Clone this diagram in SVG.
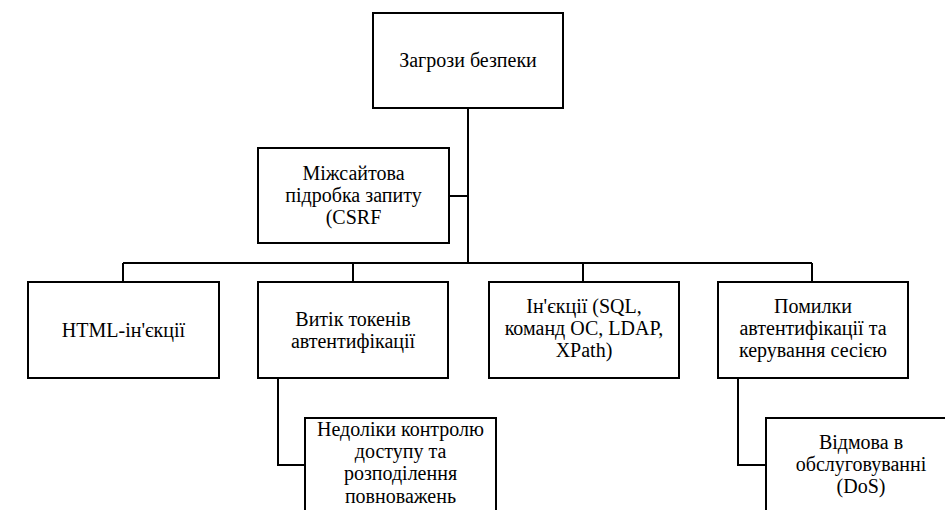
<svg xmlns="http://www.w3.org/2000/svg" width="945" height="510" viewBox="0 0 945 510">
<style>
.box{fill:#fff;stroke:#000;stroke-width:2}
.ln{fill:none;stroke:#000;stroke-width:2}
text{font-family:"Liberation Serif","Times New Roman",serif;font-size:20px;fill:#000;text-anchor:middle}
</style>
<rect width="945" height="510" fill="#fff"/>
<g id="connectors">
<path class="ln" d="M468 108V263"/>
<path class="ln" d="M449 196H468"/>
<path class="ln" d="M123 263H812"/>
<path class="ln" d="M123 263V282M353 263V282M583 263V282M812 263V282"/>
<path class="ln" d="M278 378V465H305"/>
<path class="ln" d="M738 378V465H766"/>
</g>
<g id="n_root"><rect class="box" x="373" y="13" width="190" height="95"/><text x="468" y="67" font-size="21">Загрози безпеки</text></g>
<g id="n_csrf"><rect class="box" x="258" y="148" width="191" height="95"/><text x="353.5" y="180"><tspan x="353.5">Міжсайтова</tspan><tspan x="353.5" dy="22.2">підробка запиту</tspan><tspan x="353.5" dy="22.2">(CSRF</tspan></text></g>
<g id="n_html"><rect class="box" x="28" y="282" width="191" height="96"/><text x="123.5" y="337" font-size="21">HTML-ін'єкції</text></g>
<g id="n_tokens"><rect class="box" x="258" y="282" width="190" height="96"/><text x="353" y="325.5"><tspan x="353">Витік токенів</tspan><tspan x="353" dy="22.2">автентифікації</tspan></text></g>
<g id="n_inject"><rect class="box" x="489" y="282" width="190" height="96"/><text x="584" y="312.5"><tspan x="584">Ін'єкції (SQL,</tspan><tspan x="584" dy="22.2">команд ОС, LDAP,</tspan><tspan x="584" dy="22.2">XPath)</tspan></text></g>
<g id="n_auth"><rect class="box" x="718" y="282" width="190" height="96"/><text x="813" y="312.5"><tspan x="813">Помилки</tspan><tspan x="813" dy="22.2">автентифікації та</tspan><tspan x="813" dy="22.2">керування сесією</tspan></text></g>
<g id="n_access"><rect class="box" x="305" y="418" width="191" height="100"/><text x="400.5" y="436"><tspan x="400.5">Недоліки контролю</tspan><tspan x="400.5" dy="22.2">доступу та</tspan><tspan x="400.5" dy="22.2">розподілення</tspan><tspan x="400.5" dy="22.2">повноважень</tspan></text></g>
<g id="n_dos"><rect class="box" x="766" y="418" width="190" height="100"/><text x="861" y="448.5"><tspan x="861">Відмова в</tspan><tspan x="861" dy="22.2">обслуговуванні</tspan><tspan x="861" dy="22.2">(DoS)</tspan></text></g>
</svg>
